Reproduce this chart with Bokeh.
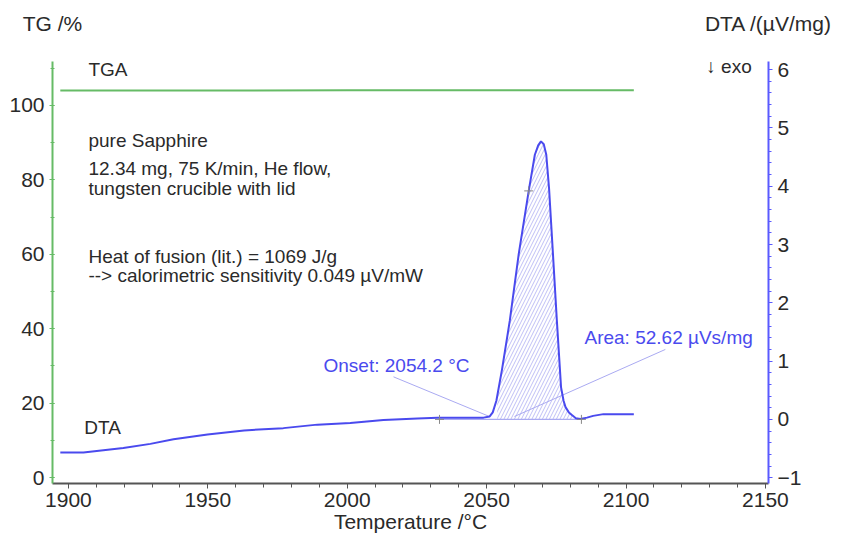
import numpy as np
from bokeh.plotting import figure
from bokeh.models import Range1d, LinearAxis, SingleIntervalTicker, FixedTicker, Label
from bokeh.embed import file_html
from bokeh.resources import INLINE

# ---------------- data ----------------
dta_temp = [1897.1, 1905.4, 1919.7, 1929.4, 1937.7, 1949.9, 1963.0, 1977.1, 1989.3,
            2001.1, 2013.0, 2025.2, 2032.4, 2040.0, 2048.9, 2051.1, 2052.2, 2053.5,
            2055.5, 2058.3, 2061.5, 2065.1, 2067.3, 2068.5, 2069.5, 2070.5, 2071.4,
            2072.4, 2073.8, 2075.2, 2076.7, 2077.6, 2078.3, 2079.5, 2080.7, 2082.0,
            2083.6, 2086.0, 2088.2, 2091.9, 2096.0, 2102.8]
dta_val = [-0.57, -0.57, -0.49, -0.42, -0.34, -0.26, -0.19, -0.15, -0.09,
           -0.06, -0.01, 0.015, 0.03, 0.03, 0.03, 0.05, 0.12, 0.32,
           0.85, 1.69, 2.83, 3.92, 4.54, 4.70, 4.77, 4.72, 4.54,
           3.96, 2.83, 1.69, 0.55, 0.32, 0.21, 0.12, 0.07, 0.02,
           0.005, 0.03, 0.06, 0.09, 0.09, 0.09]

tga_temp = [1897.1, 1950.0, 2000.0, 2050.0, 2102.8]
tga_val = [104.0, 104.0, 104.1, 104.1, 104.1]

peak_start = 2053.8          # integration limits (°C)
peak_end = 2081.0
baseline_temp = [2033.1, 2084.0]
baseline_val = [0.0, 0.0]

marker_temp = [2033.1, 2065.1, 2084.0]
marker_val = [0.0, 3.92, 0.0]

onset_line_temp = [2016.6, 2051.0]
onset_line_val = [0.73, 0.05]
area_line_temp = [2114.1, 2060.0]
area_line_val = [1.20, 0.05]

x_start, x_end = 1894.3, 2151.1
tg_start, tg_end = -1.61, 111.8
dta_start, dta_end = -1.10, 6.14

axis_titles = {"left": "TG /%", "right": "DTA /(µV/mg)", "bottom": "Temperature /°C"}

# ---------------- figure ----------------
FONT = "Liberation Sans"
GREEN = "#66bb66"
BLUE = "#4a4aee"
LIGHTBLUE = "#aaaaf2"
TXT = "#2a2a2a"

p = figure(width=841, height=541, output_backend="svg", toolbar_location=None,
           x_range=Range1d(x_start, x_end), y_range=Range1d(tg_start, tg_end))
p.min_border = 0
p.min_border_left = 52
p.min_border_right = 73
p.min_border_top = 61
p.min_border_bottom = 58
p.outline_line_color = None
p.grid.visible = False
p.background_fill_color = "white"
p.border_fill_color = "white"

p.extra_y_ranges = {"dta": Range1d(dta_start, dta_end)}

# x axis
xa = p.xaxis[0]
xa.ticker = SingleIntervalTicker(interval=50, num_minor_ticks=5)
xa.axis_line_color = "#555555"
xa.axis_line_width = 2
xa.major_tick_line_color = "#555555"
xa.minor_tick_line_color = "#555555"
xa.major_tick_in = 0
xa.major_tick_out = 5
xa.minor_tick_in = 0
xa.minor_tick_out = 4
xa.major_label_text_font = FONT
xa.major_label_text_font_size = "21px"
xa.major_label_text_color = TXT
xa.major_label_standoff = 4
xa.axis_label = axis_titles["bottom"]
xa.axis_label_text_font = FONT
xa.axis_label_text_font_size = "21px"
xa.axis_label_text_font_style = "normal"
xa.axis_label_text_color = TXT
xa.axis_label_standoff = 0

# left axis (TG)
ya = p.yaxis[0]
ya.ticker = SingleIntervalTicker(interval=20, num_minor_ticks=2)
ya.axis_line_color = GREEN
ya.axis_line_width = 2
ya.major_tick_line_color = GREEN
ya.minor_tick_line_color = GREEN
ya.major_tick_in = 2
ya.major_tick_out = 3
ya.minor_tick_in = 2
ya.minor_tick_out = 2
ya.major_label_text_font = FONT
ya.major_label_text_font_size = "21px"
ya.major_label_text_color = TXT
ya.major_label_standoff = 5

# right axis (DTA)
ra = LinearAxis(y_range_name="dta",
                ticker=SingleIntervalTicker(interval=1, num_minor_ticks=5))
ra.axis_line_color = "#5a5aff"
ra.axis_line_width = 2
ra.major_tick_line_color = "#5a5aff"
ra.minor_tick_line_color = "#5a5aff"
ra.major_tick_in = 0
ra.major_tick_out = 4
ra.minor_tick_in = 0
ra.minor_tick_out = 3
ra.major_label_text_font = FONT
ra.major_label_text_font_size = "21px"
ra.major_label_text_color = TXT
ra.major_label_standoff = 5
p.add_layout(ra, "right")

# top "axis" carrying the two axis titles above the left and right axes
ta = LinearAxis(ticker=FixedTicker(ticks=[x_start, x_end], minor_ticks=[]),
                major_label_overrides={x_start: axis_titles["left"],
                                       x_end: axis_titles["right"]})
ta.axis_line_color = None
ta.major_tick_line_color = None
ta.minor_tick_line_color = None
ta.major_tick_in = 0
ta.major_tick_out = 0
ta.major_label_text_font = FONT
ta.major_label_text_font_size = "21px"
ta.major_label_text_color = TXT
ta.major_label_standoff = 27
p.add_layout(ta, "above")

# ---------------- glyphs ----------------
t = np.array(dta_temp)
v = np.array(dta_val)
mask = (t > peak_start) & (t < peak_end)
hx = np.concatenate([[peak_start], t[mask], [peak_end, peak_end, peak_start]])
hy = np.concatenate([[np.interp(peak_start, t, v)], v[mask],
                     [np.interp(peak_end, t, v), 0.0, 0.0]])
p.patch(hx, hy, y_range_name="dta", fill_alpha=0, line_color=None,
        hatch_pattern="/", hatch_color="#9a9af0", hatch_alpha=0.8,
        hatch_scale=7, hatch_weight=0.8)

p.line(baseline_temp, baseline_val, y_range_name="dta", line_color=LIGHTBLUE, line_width=1.2)
p.line(onset_line_temp, onset_line_val, y_range_name="dta", line_color=LIGHTBLUE, line_width=1)
p.line(area_line_temp, area_line_val, y_range_name="dta", line_color=LIGHTBLUE, line_width=1)

p.line(tga_temp, tga_val, line_color=GREEN, line_width=2)
p.line(dta_temp, dta_val, y_range_name="dta", line_color=BLUE, line_width=2)

p.scatter(marker_temp, marker_val, y_range_name="dta", marker="cross",
          size=9, line_color="#888888", line_width=1)

# ---------------- texts ----------------
def lab(x, y, text, size="19px", color=TXT, align="left", rng="default"):
    p.add_layout(Label(x=x, y=y, text=text, text_font=FONT, text_font_size=size,
                       text_color=color, text_align=align, text_baseline="middle",
                       y_range_name=rng))

lab(1907.2, 109.7, "TGA")
lab(1907.2, 90.6, "pure Sapphire")
lab(1907.2, 83.1, "12.34 mg, 75 K/min, He flow,")
lab(1907.2, 77.7, "tungsten crucible with lid")
lab(1907.2, 59.5, "Heat of fusion (lit.) = 1069 J/g")
lab(1907.2, 54.2, "--> calorimetric sensitivity 0.049 µV/mW")
lab(1905.7, 13.4, "DTA")
lab(1991.5, 0.92, "Onset: 2054.2 °C", color=BLUE, rng="dta")
lab(2085.1, 1.40, "Area: 52.62 µVs/mg", color=BLUE, rng="dta")
lab(2128.8, 110.5, "↓ exo")

open("out.html", "w").write(file_html(p, INLINE))
